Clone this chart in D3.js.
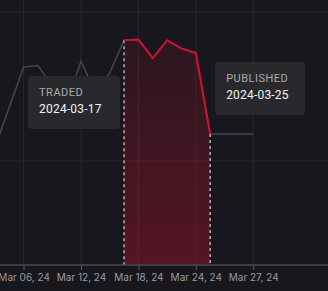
<!DOCTYPE html>
<html>
<head>
<meta charset="utf-8">
<script src="https://cdn.jsdelivr.net/npm/d3@7"></script>
<style>
  html, body { margin: 0; padding: 0; background: #17171d; }
  svg { display: block; font-family: Inter, "Noto Sans", sans-serif; }
</style>
</head>
<body>
<div id="chart"></div>
<script>
// price index per point (one point per trading session)
const values = [109, 136, 163, 164, 150, 138, 167, 146, 159, 181, 181.5, 169, 181, 175.5, 172.5, 118, 118, 118, 118];
const tickIdx = [2, 6, 10, 14, 18];
const tickLabels = ["Mar 06, 24", "Mar 12, 24", "Mar 18, 24", "Mar 24, 24", "Mar 27, 24"];
const gridValues = [100, 200];
const tradedIdx = 9;
const publishedIdx = 15;
const markers = [
  { idx: tradedIdx, label: "TRADED", date: "2024-03-17", side: "left" },
  { idx: publishedIdx, label: "PUBLISHED", date: "2024-03-25", side: "right" }
];

const width = 328;
const height = 291;

const svg = d3.select("#chart")
  .append("svg")
  .attr("width", width)
  .attr("height", height);

const x = d3.scaleLinear().domain([0, values.length - 1]).range([-5.1, 253.2]);
const y = d3.scaleLinear().domain([30, 200]).range([265, 12]);
const baseY = 265;

// gradient for the holding period
const grad = svg.append("defs").append("linearGradient")
  .attr("id", "redFill")
  .attr("x1", 0).attr("y1", 0).attr("x2", 0).attr("y2", 1);
grad.append("stop").attr("offset", "0%").attr("stop-color", "#c41230").attr("stop-opacity", 0.12);
grad.append("stop").attr("offset", "100%").attr("stop-color", "#c41230").attr("stop-opacity", 0.36);

// grid
svg.append("g")
  .selectAll("line")
  .data(gridValues)
  .enter().append("line")
  .attr("x1", 0).attr("x2", width)
  .attr("y1", d => y(d)).attr("y2", d => y(d))
  .attr("stroke", "#27272e");

svg.append("g")
  .selectAll("line")
  .data(tickIdx)
  .enter().append("line")
  .attr("x1", d => x(d)).attr("x2", d => x(d))
  .attr("y1", 0).attr("y2", baseY)
  .attr("stroke", "#27272e");

const held = d3.range(tradedIdx, publishedIdx + 1);

svg.append("path")
  .datum(held)
  .attr("fill", "url(#redFill)")
  .attr("d", d3.area().x(i => x(i)).y0(baseY).y1(i => y(values[i])));

// full price line
svg.append("path")
  .datum(values)
  .attr("fill", "none")
  .attr("stroke", "#46464c")
  .attr("stroke-width", 1.5)
  .attr("d", d3.line().x((d, i) => x(i)).y(d => y(d)));

// dashed markers
svg.append("g")
  .selectAll("line")
  .data(markers)
  .enter().append("line")
  .attr("x1", d => x(d.idx)).attr("x2", d => x(d.idx))
  .attr("y1", d => y(values[d.idx])).attr("y2", baseY)
  .attr("stroke", "#b9b0b4")
  .attr("stroke-width", 1.5)
  .attr("stroke-dasharray", "3,3");

// highlighted segment
svg.append("path")
  .datum(held)
  .attr("fill", "none")
  .attr("stroke", "#d0102c")
  .attr("stroke-width", 2)
  .attr("stroke-linejoin", "round")
  .attr("d", d3.line().x(i => x(i)).y(i => y(values[i])));

// x axis
const axis = svg.append("g")
  .attr("transform", `translate(0,${baseY})`)
  .call(d3.axisBottom(x)
    .tickValues(tickIdx)
    .tickFormat((d, i) => tickLabels[i])
    .tickSize(5)
    .tickPadding(4));
axis.select(".domain").remove();
axis.selectAll(".tick line").attr("stroke", "#5a5a60");
axis.selectAll(".tick text")
  .attr("fill", "#9a9aa0")
  .style("font-size", "10px")
  .style("font-family", "Inter, sans-serif");
svg.append("line")
  .attr("x1", 0).attr("x2", width)
  .attr("y1", baseY).attr("y2", baseY)
  .attr("stroke", "#4a4a50")
  .attr("stroke-width", 1.5);

// tooltip boxes
const tips = svg.append("g")
  .selectAll("g")
  .data(markers)
  .enter().append("g")
  .attr("transform", d => d.side === "left"
    ? `translate(${x(d.idx) - 96},76)`
    : `translate(${x(d.idx) + 5},62)`);

tips.append("rect")
  .attr("width", d => d.side === "left" ? 92 : 90)
  .attr("height", 53)
  .attr("rx", 4)
  .attr("fill", "#29292d");

tips.append("text")
  .attr("x", 11).attr("y", 20)
  .attr("fill", "#a9a9ae")
  .style("font-family", "Roboto, sans-serif")
  .style("font-size", "11px")
  .style("letter-spacing", "0.5px")
  .text(d => d.label);

tips.append("text")
  .attr("x", 11).attr("y", 37)
  .attr("fill", "#f2f2f2")
  .style("font-family", "Roboto, sans-serif")
  .style("font-size", "12px")
  .style("letter-spacing", "0.2px")
  .text(d => d.date);
</script>
</body>
</html>
